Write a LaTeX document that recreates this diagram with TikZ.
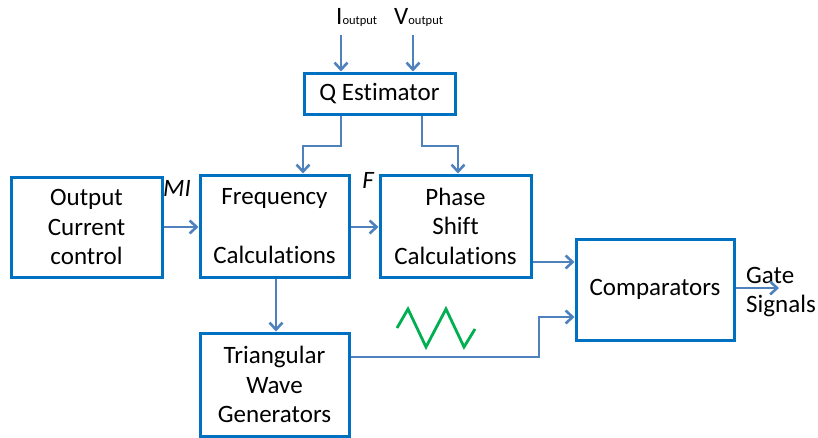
\documentclass[tikz,border=0pt]{standalone}
\usepackage{fontspec}
\setmainfont{Carlito}[Ligatures={NoCommon}]
\usetikzlibrary{arrows.meta}
\definecolor{boxblue}{RGB}{0,112,192}
\definecolor{arrblue}{RGB}{79,129,189}
\definecolor{wavegreen}{RGB}{0,176,80}
\begin{document}
\begin{tikzpicture}[x=1pt,y=-1pt,
  blk/.style={draw=boxblue,line width=3pt,rectangle,inner sep=0pt,align=center,
    font=\fontsize{25}{29.5}\selectfont},
  conn/.style={draw=arrblue,line width=2.9pt,-{Straight Barb[length=7pt,width=13pt,line width=2.6pt]}},
  lbl/.style={inner sep=0pt,font=\fontsize{25}{29.5}\selectfont}]
\useasboundingbox (0,0) rectangle (818,437);
\node[blk,minimum width=151pt,minimum height=100pt] (occ) at (86.5,227) {Output\\Current\\control};
\node[blk,minimum width=149pt,minimum height=102pt] (freq) at (274.5,226) {Frequency\\[29.5pt]Calculations};
\node[blk,minimum width=149pt,minimum height=103pt] (tri) at (274.5,384.5) {Triangular\\Wave\\Generators};
\node[blk,minimum width=151pt,minimum height=102pt] (phase) at (455.5,226) {Phase\\Shift\\Calculations};
\node[blk,minimum width=158pt,minimum height=101pt] (comp) at (655,289.5) {Comparators};
\node[blk,minimum width=151pt,minimum height=41pt] (qest) at (379.5,93.5) {Q Estimator};
% labels
\node[lbl,anchor=base west] (ilab) at (336,24) {I{\fontsize{12.5}{12.5}\selectfont output}};
\node[lbl,anchor=base west] (vlab) at (394,24) {V{\fontsize{12.5}{12.5}\selectfont output}};
\node[lbl,font=\fontsize{25}{29.5}\selectfont\itshape] (mi) at (177,188) {MI};
\node[lbl,font=\fontsize{25}{29.5}\selectfont\itshape] (flab) at (368,180) {F};
\node[lbl,align=left,anchor=west] (gate) at (746,292) {Gate\\Signals};
% connector endpoints
\coordinate (iin) at (341,35);
\coordinate (vin) at (413,35);
\coordinate (gout) at (779,288);
% connectors
\draw[conn] (iin) -- (iin |- qest.north);
\draw[conn] (vin) -- (vin |- qest.north);
\draw[conn] (qest.south -| iin) -- (341,146) -- (303,146) -- (303,0 |- freq.north);
\draw[conn] (qest.south -| 422,0) -- (422,146) -- (458,146) -- (458,0 |- phase.north);
\draw[conn] (occ.east |- 0,227) -- (freq.west |- 0,227);
\draw[conn] (freq.east |- 0,227) -- (phase.west |- 0,227);
\draw[conn] (freq.south -| 276,0) -- (tri.north -| 276,0);
\draw[conn] (phase.east |- 0,262) -- (comp.west |- 0,262);
\draw[conn] (tri.east |- 0,357) -- (539,357) -- (539,317) -- (comp.west |- 0,317);
\draw[conn] (comp.east |- gout) -- (gout);
% triangular wave
\draw[wavegreen,line width=2.8pt,line join=miter] (397,328) -- (408,309) -- (426,347) -- (446,309) -- (464,347) -- (475,329);
\end{tikzpicture}
\end{document}
